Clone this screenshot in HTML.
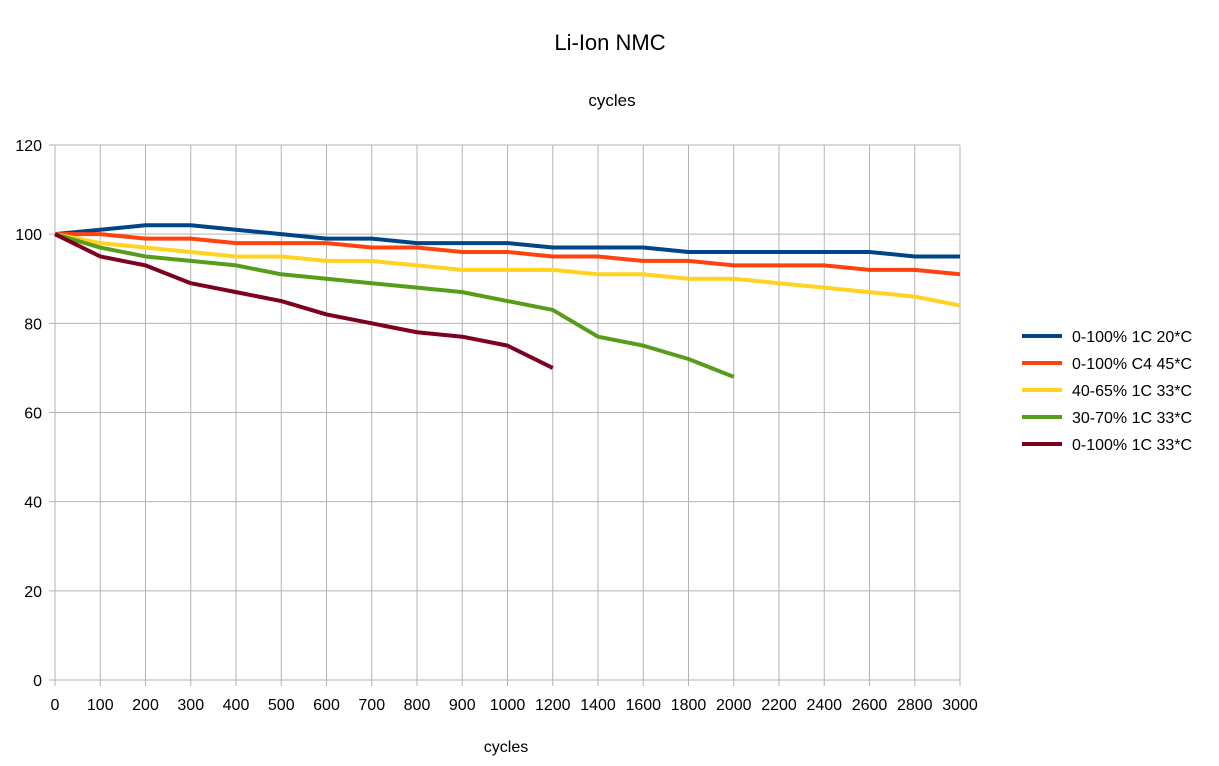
<!DOCTYPE html>
<html><head><meta charset="utf-8"><style>
body{margin:0;background:#fff;}
svg text{font-family:"Liberation Sans",sans-serif;fill:#000;}
</style></head><body>
<svg id="s" width="1219" height="761" xmlns="http://www.w3.org/2000/svg">
<rect width="1219" height="761" fill="#fff"/>
<text x="610" y="50" font-size="22" text-anchor="middle">Li-Ion NMC</text>
<text x="612" y="106" font-size="17" text-anchor="middle">cycles</text>
<text x="506" y="752" font-size="16" text-anchor="middle">cycles</text>
<g id="grid"></g>
<g id="series"></g>
<g font-size="16">
<line x1="1022" y1="336" x2="1062" y2="336" stroke="#004586" stroke-width="4"/><text x="1072" y="342">0-100% 1C 20*C</text>
<line x1="1022" y1="363" x2="1062" y2="363" stroke="#ff420e" stroke-width="4"/><text x="1072" y="369">0-100% C4 45*C</text>
<line x1="1022" y1="390" x2="1062" y2="390" stroke="#ffd320" stroke-width="4"/><text x="1072" y="396">40-65% 1C 33*C</text>
<line x1="1022" y1="417" x2="1062" y2="417" stroke="#579d1c" stroke-width="4"/><text x="1072" y="423">30-70% 1C 33*C</text>
<line x1="1022" y1="444" x2="1062" y2="444" stroke="#7e0021" stroke-width="4"/><text x="1072" y="450">0-100% 1C 33*C</text>
</g>
</svg>
<script>
var NS="http://www.w3.org/2000/svg";
var x0=55,x1=960,y0=680,y1=145,n=21,dx=(x1-x0)/(n-1);
function Y(v){return y0-(v/120)*(y0-y1);}
var g=document.getElementById("grid"),h="";
var labels=[0,100,200,300,400,500,600,700,800,900,1000,1200,1400,1600,1800,2000,2200,2400,2600,2800,3000];
for(var i=0;i<n;i++){var x=x0+i*dx;h+='<line x1="'+x+'" y1="'+y1+'" x2="'+x+'" y2="'+(y0+6)+'" stroke="#b3b3b3"/>';
h+='<text x="'+x+'" y="710" font-size="16" text-anchor="middle">'+labels[i]+'</text>';}
for(var v=0;v<=120;v+=20){var y=Y(v);h+='<line x1="'+(x0-6)+'" y1="'+y+'" x2="'+x1+'" y2="'+y+'" stroke="#b3b3b3"/>';
h+='<text x="42" y="'+(y+6)+'" font-size="16" text-anchor="end">'+v+'</text>';}
g.innerHTML=h;
var data=[
["#004586",[100,101,102,102,101,100,99,99,98,98,98,97,97,97,96,96,96,96,96,95,95]],
["#ff420e",[100,100,99,99,98,98,98,97,97,96,96,95,95,94,94,93,93,93,92,92,91]],
["#ffd320",[100,98,97,96,95,95,94,94,93,92,92,92,91,91,90,90,89,88,87,86,84]],
["#579d1c",[100,97,95,94,93,91,90,89,88,87,85,83,77,75,72,68]],
["#7e0021",[100,95,93,89,87,85,82,80,78,77,75,70]]];
var s="";
data.forEach(function(d){var p=d[1].map(function(v,i){return (x0+i*dx)+","+Y(v);}).join(" ");
s+='<polyline points="'+p+'" fill="none" stroke="'+d[0]+'" stroke-width="4" stroke-linejoin="round"/>';});
document.getElementById("series").innerHTML=s;
</script>
</body></html>
